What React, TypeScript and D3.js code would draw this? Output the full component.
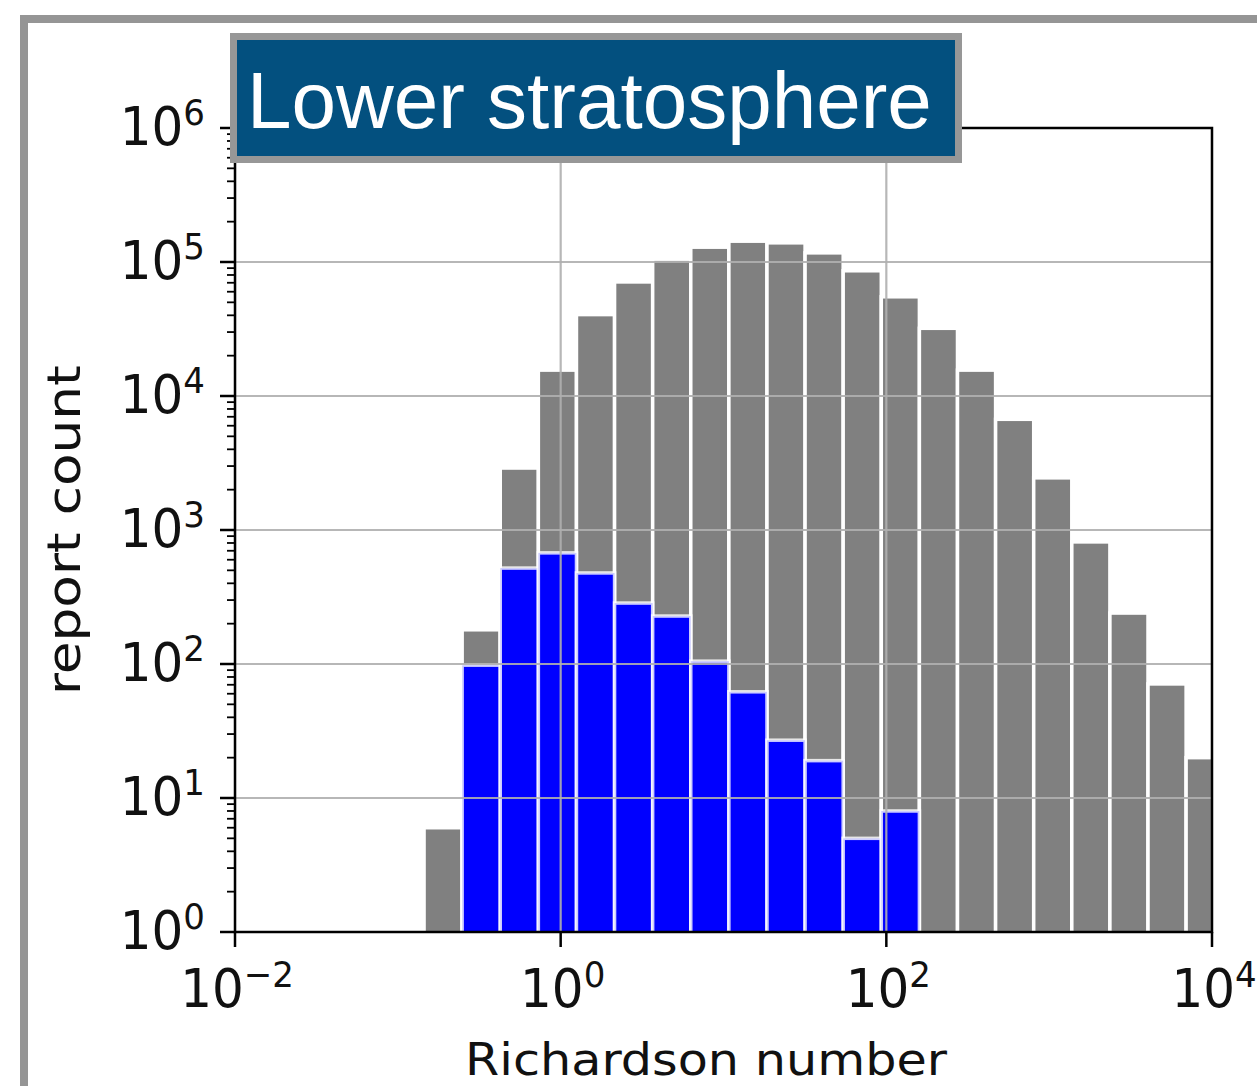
import React from "react";
import * as d3 from "d3";

// log10 of histogram bin edges (Richardson number)
const binEdgesLog = [
  -0.839, -0.605, -0.371, -0.137, 0.097, 0.331, 0.565, 0.799, 1.033, 1.267, 1.501,
  1.735, 1.969, 2.203, 2.437, 2.671, 2.905, 3.139, 3.373, 3.607, 3.841, 4.075,
];
// all reports (gray)
const allCounts = [
  6, 180, 2900, 15600, 40500, 71000, 105000, 129000, 143000, 139000, 117000,
  86000, 55000, 32000, 15600, 6700, 2450, 815, 240, 71, 20,
];
// subset (blue)
const subsetCounts = [
  0, 98, 520, 675, 478, 285, 228, 105, 62, 27, 19, 5, 8, 0, 0, 0, 0, 0, 0, 0, 0,
];
const xTickExps = [-2, 0, 2, 4];
const yTickExps = [0, 1, 2, 3, 4, 5, 6];
const titleText = "Lower stratosphere";
const xLabel = "Richardson number";
const yLabel = "report count";

const W = 1257;
const H = 1086;
const L = 235, R = 1212, T = 128, B = 932;

export default function App() {
  const x = d3.scaleLog().domain([1e-2, 1e4]).range([L, R]);
  const y = d3.scaleLog().domain([1, 1e6]).range([B, T]);
  const font = "'DejaVu Sans', sans-serif";

  const bins = allCounts.map((c, i) => ({
    x0: Math.pow(10, binEdgesLog[i]),
    x1: Math.pow(10, binEdgesLog[i + 1]),
    all: c,
    sub: subsetCounts[i],
  }));

  const minorY: number[] = [];
  for (let e = 0; e < 6; e++) for (let m = 2; m <= 9; m++) minorY.push(m * Math.pow(10, e));

  const supFor = (e: number) => (e < 0 ? "\u2212" + Math.abs(e) : String(e));

  return (
    <svg width={W} height={H} style={{ position: "absolute", left: 0, top: 0, background: "#fff" }}>
      <defs>
        <clipPath id="plotclip">
          <rect x={L} y={T} width={R - L} height={B - T} />
        </clipPath>
      </defs>
      <rect x={0} y={0} width={W} height={H} fill="#fff" />
      {/* outer frame */}
      <rect x={24} y={19} width={1400} height={1300} fill="none" stroke="#959595" strokeWidth={8} />

      <g clipPath="url(#plotclip)">
        {bins.map((b, i) =>
          b.all > 0 ? (
            <rect key={"a" + i} x={x(b.x0)} y={y(b.all)} width={x(b.x1) - x(b.x0)} height={B + 10 - y(b.all)}
              fill="#808080" stroke="#fff" strokeWidth={3.5} />
          ) : null
        )}
        {bins.map((b, i) =>
          b.sub > 0 ? (
            <rect key={"s" + i} x={x(b.x0)} y={y(b.sub)} width={x(b.x1) - x(b.x0)} height={B + 10 - y(b.sub)}
              fill="#0000ff" stroke="#fff" strokeWidth={3.5} strokeOpacity={0.8} />
          ) : null
        )}
        {/* grid */}
        {yTickExps.map((e) => (
          <line key={"gy" + e} x1={L} x2={R} y1={y(Math.pow(10, e))} y2={y(Math.pow(10, e))}
            stroke="#b0b0b0" strokeWidth={2.2} opacity={0.9} />
        ))}
        {xTickExps.map((e) => (
          <line key={"gx" + e} y1={T} y2={B} x1={x(Math.pow(10, e))} x2={x(Math.pow(10, e))}
            stroke="#b0b0b0" strokeWidth={2.2} opacity={0.9} />
        ))}
      </g>

      {/* spines */}
      <rect x={L} y={T} width={R - L} height={B - T} fill="none" stroke="#000" strokeWidth={2.5} />

      {/* y ticks */}
      {yTickExps.map((e) => (
        <line key={"ty" + e} x1={L - 15} x2={L} y1={y(Math.pow(10, e))} y2={y(Math.pow(10, e))} stroke="#000" strokeWidth={2.5} />
      ))}
      {minorY.map((v, i) => (
        <line key={"my" + i} x1={L - 8} x2={L} y1={y(v)} y2={y(v)} stroke="#000" strokeWidth={1.8} />
      ))}
      {yTickExps.map((e) => (
        <g key={"ly" + e} transform={`translate(${L - 30},${y(Math.pow(10, e)) + 17}) scale(1,1.05)`}>
          <text x={0} y={0} textAnchor="end" fontFamily={font} fontSize={50} fill="#111">
            10<tspan fontSize={34} dy={-19}>{supFor(e)}</tspan>
          </text>
        </g>
      ))}

      {/* x ticks */}
      {xTickExps.map((e) => (
        <line key={"tx" + e} y1={B} y2={B + 15} x1={x(Math.pow(10, e))} x2={x(Math.pow(10, e))} stroke="#000" strokeWidth={2.5} />
      ))}
      {xTickExps.map((e) => (
        <g key={"lx" + e} transform={`translate(${x(Math.pow(10, e)) + 2},${B + 75}) scale(1,1.05)`}>
          <text x={0} y={0} textAnchor="middle" fontFamily={font} fontSize={50} fill="#111">
            10<tspan fontSize={34} dy={-19}>{supFor(e)}</tspan>
          </text>
        </g>
      ))}

      {/* axis labels */}
      <text x={706} y={1075} textAnchor="middle" fontFamily={font} fontSize={44} fill="#111"
        textLength={482} lengthAdjust="spacingAndGlyphs">{xLabel}</text>
      <text transform="translate(80,530) rotate(-90)" textAnchor="middle" fontFamily={font} fontSize={46} fill="#111"
        textLength={330} lengthAdjust="spacingAndGlyphs">{yLabel}</text>

      {/* title box */}
      <rect x={233.5} y={36.5} width={725} height={123} fill="#03507f" stroke="#979797" strokeWidth={7} />
      <text x={247} y={128} fontFamily="'Liberation Sans', Arial, Helvetica, sans-serif" fontSize={80} fill="#fff">
        {titleText}
      </text>
    </svg>
  );
}
